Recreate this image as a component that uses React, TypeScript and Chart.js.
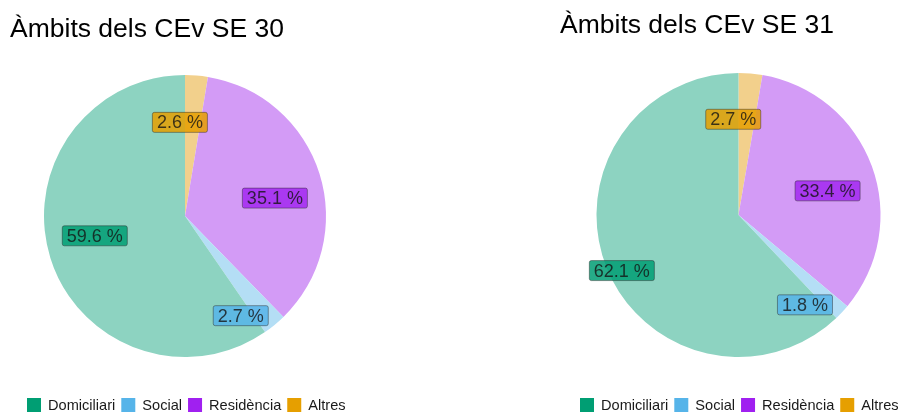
import React, { useEffect, useRef } from "react";
import { Chart, registerables } from "chart.js";

Chart.register(...registerables);

// ---- data ----
const categories = ["Domiciliari", "Social", "Residència", "Altres"];
const titleSE30 = "Àmbits dels CEv SE 30";
const titleSE31 = "Àmbits dels CEv SE 31";
const valuesSE30 = [59.6, 2.7, 35.1, 2.6];
const valuesSE31 = [62.1, 1.8, 33.4, 2.7];

// ---- styles ----
const baseColors = ["#009E73", "#56B4E9", "#A020F0", "#E69F00"];
const sliceColors = ["#8DD3C1", "#B4DEF5", "#D39BF6", "#F2D08C"];
const labelFills = ["rgba(0,158,115,0.85)", "rgba(86,180,233,0.85)", "rgba(160,32,240,0.8)", "rgba(230,159,0,0.85)"];
const FONT = '"Liberation Sans", Arial, sans-serif';

// label placement (legend order): radius fraction and angle nudge in degrees
const labelRadiusSE30 = [0.655, 0.81, 0.65, 0.665];
const labelShiftSE30 = [4.9, 10.2, 6.2, -7.8];
const labelRadiusSE31 = [0.91, 0.787, 0.65, 0.675];
const labelShiftSE31 = [-3.7, 10.3, 5, -8];

type PieProps = {
  title: string;
  values: number[];
  radiusFrac: number[];
  shiftDeg: number[];
  left: number;
  width: number;
  titleX: number;
  titleY: number;
  padTop: number;
  padBottom: number;
};

function roundRect(ctx: CanvasRenderingContext2D, x: number, y: number, w: number, h: number, r: number) {
  ctx.beginPath();
  ctx.moveTo(x + r, y);
  ctx.lineTo(x + w - r, y);
  ctx.arcTo(x + w, y, x + w, y + r, r);
  ctx.lineTo(x + w, y + h - r);
  ctx.arcTo(x + w, y + h, x + w - r, y + h, r);
  ctx.lineTo(x + r, y + h);
  ctx.arcTo(x, y + h, x, y + h - r, r);
  ctx.lineTo(x, y + r);
  ctx.arcTo(x, y, x + r, y, r);
  ctx.closePath();
}

function PieChart(p: PieProps) {
  const ref = useRef<HTMLCanvasElement | null>(null);
  useEffect(() => {
    if (!ref.current) return;
    // pie is drawn clockwise in reverse legend order
    const order = [3, 2, 1, 0];
    const overlay = {
      id: "overlay",
      afterDraw(chart: any) {
        const ctx: CanvasRenderingContext2D = chart.ctx;
        ctx.save();
        // title
        ctx.font = `26.5px ${FONT}`;
        ctx.fillStyle = "#000";
        ctx.textAlign = "left";
        ctx.textBaseline = "alphabetic";
        ctx.fillText(p.title, p.titleX, p.titleY);

        // labels
        const meta = chart.getDatasetMeta(0);
        const total = p.values.reduce((a, b) => a + b, 0);
        ctx.font = `18px ${FONT}`;
        meta.data.forEach((arc: any, i: number) => {
          const ci = order[i];
          const mid = (arc.startAngle + arc.endAngle) / 2 + (p.shiftDeg[ci] * Math.PI) / 180;
          const r = arc.outerRadius * p.radiusFrac[ci];
          const x = arc.x + Math.cos(mid) * r;
          const y = arc.y + Math.sin(mid) * r;
          const txt = ((p.values[ci] / total) * 100).toFixed(1) + " %";
          const tw = ctx.measureText(txt).width;
          const bw = tw + 9;
          const bh = 20;
          roundRect(ctx, x - bw / 2, y - bh / 2, bw, bh, 2);
          ctx.fillStyle = labelFills[ci];
          ctx.fill();
          ctx.strokeStyle = "rgba(40,40,40,0.45)";
          ctx.lineWidth = 1;
          ctx.stroke();
          ctx.fillStyle = "rgba(20,20,20,0.8)";
          ctx.textAlign = "center";
          ctx.textBaseline = "middle";
          ctx.fillText(txt, x, y + 1);
        });

        // legend
        ctx.font = `14.6px ${FONT}`;
        ctx.textAlign = "left";
        ctx.textBaseline = "alphabetic";
        let lx = 27;
        categories.forEach((c, i) => {
          ctx.fillStyle = baseColors[i];
          ctx.fillRect(lx, 398, 14, 14);
          lx += 14 + 7;
          ctx.fillStyle = "#1a1a1a";
          ctx.fillText(c, lx, 410);
          lx += ctx.measureText(c).width + 6;
        });
        ctx.restore();
      },
    };
    const chart = new Chart(ref.current, {
      type: "pie",
      data: {
        labels: order.map((i) => categories[i]),
        datasets: [
          {
            data: order.map((i) => p.values[i]),
            backgroundColor: order.map((i) => sliceColors[i]),
            borderWidth: 0,
          },
        ],
      },
      options: {
        responsive: false,
        animation: false,
        layout: { padding: { top: p.padTop, bottom: p.padBottom, left: 0, right: 0 } },
        plugins: {
          legend: { display: false },
          title: { display: false },
          tooltip: { enabled: false },
        },
      },
      plugins: [overlay],
    } as any);
    return () => chart.destroy();
  }, []);
  return (
    <canvas
      ref={ref}
      width={p.width}
      height={412}
      style={{ position: "absolute", left: p.left, top: 0, width: p.width, height: 412 }}
    />
  );
}

export default function App() {
  return (
    <div
      style={{
        position: "fixed",
        left: 0,
        top: 0,
        width: 902,
        height: 412,
        overflow: "hidden",
        background: "#fff",
      }}
    >
      <PieChart
        title={titleSE30}
        values={valuesSE30}
        radiusFrac={labelRadiusSE30}
        shiftDeg={labelShiftSE30}
        left={0}
        width={370}
        titleX={10}
        titleY={37}
        padTop={75}
        padBottom={55}
      />
      <PieChart
        title={titleSE31}
        values={valuesSE31}
        radiusFrac={labelRadiusSE31}
        shiftDeg={labelShiftSE31}
        left={553}
        width={371}
        titleX={7}
        titleY={33}
        padTop={73}
        padBottom={55}
      />
    </div>
  );
}
